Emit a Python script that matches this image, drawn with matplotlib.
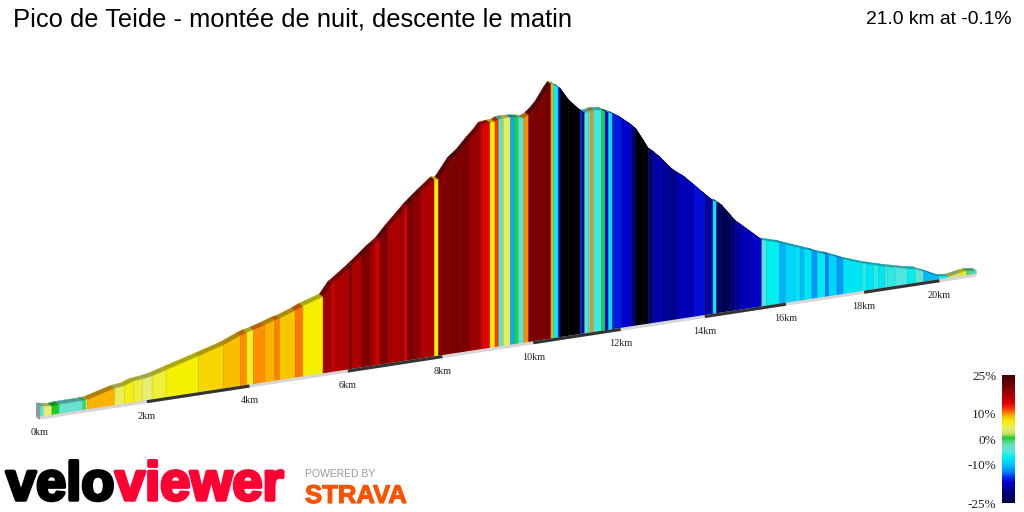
import matplotlib
matplotlib.use("Agg")
import matplotlib.pyplot as plt
import matplotlib.patheffects as pe
import numpy as np
from matplotlib.collections import PolyCollection
from matplotlib.colors import LinearSegmentedColormap, Normalize

title = "Pico de Teide - montée de nuit, descente le matin"
summary = "21.0 km at -0.1%"

# boundaries of the gradient stripes along the ride
km = [0.00, 0.06, 0.22, 0.35, 0.79, 0.85, 0.88, 1.39, 1.57, 1.75, 1.91, 2.10, 2.37, 3.00, 3.49, 3.82,
      3.95, 4.08, 4.31, 4.51, 4.61, 4.92, 5.08, 5.49,
      5.67, 5.73, 6.04, 6.09, 6.29, 6.46, 6.57, 6.67, 6.85, 7.09, 7.18, 7.25, 7.41, 7.55, 7.83, 7.92,
      8.19, 8.38, 8.60, 8.75, 8.86, 9.04, 9.15, 9.23, 9.34, 9.49, 9.58, 9.67, 9.79, 9.90,
      10.01, 10.12, 10.31, 10.40, 10.46, 10.57, 10.61, 10.80, 11.07, 11.11, 11.17, 11.26, 11.31, 11.37,
      11.56, 11.64, 11.72, 11.81, 12.02, 12.25, 12.36, 12.53, 12.65, 12.77, 12.93, 13.17, 13.33, 13.52,
      13.74, 14.00, 14.20, 14.29, 14.41, 14.62, 14.74, 14.90, 15.15, 15.40, 15.52, 15.84, 15.99, 16.23,
      16.36, 16.46, 16.66, 16.80, 17.00, 17.09, 17.30, 17.46, 17.95, 18.07, 18.25, 18.38, 18.56, 18.62,
      18.81, 19.14, 19.36, 19.58, 19.98, 20.24, 20.60, 20.73, 20.95, 21.00]

# elevation above the road line at each boundary (m)
elev = [96, 92, 80, 86, 86, 88, 88, 146, 154, 180, 186, 198, 230, 302, 359, 414,
        432, 442, 470, 497, 504, 547, 575, 624,
        716, 730, 819, 835, 898, 954, 983, 1014, 1092, 1184, 1219, 1247, 1299, 1344, 1427, 1422,
        1560, 1616, 1704, 1757, 1805, 1813, 1815, 1830, 1832, 1829, 1824, 1819, 1808, 1828,
        1862, 1904, 2006, 2048, 2040, 2013, 1999, 1899, 1799, 1784, 1778, 1781, 1786, 1788,
        1778, 1760, 1748, 1733, 1687, 1622, 1584, 1486, 1414, 1381, 1328, 1234, 1185, 1138,
        1066, 980, 916, 902, 870, 782, 730, 685, 614, 543, 529, 499, 479, 449,
        432, 419, 396, 374, 351, 342, 313, 290, 234, 222, 206, 194, 178, 174,
        159, 134, 122, 92, 34, 22, 41, 45, 37, 34]

# gradient of each stripe (%), black ones are steeper than the scale
grade = [-5, 4, 0.5, -3.5, -0.5, 4, 9, 4.5, 6.5, 5.5, 4, 5.5, 7, 8, 8.7,
         10, 6, 10, 9, 10.3, 8.5, 10.5, 7,
         18, 15, 17, 20.5, 17, 20, 18, 15, 20, 17, 18, 15, 20, 19, 17, 7,
         20, 20.5, 20, 18, 18, 14, 7, 12, -2.5, 4.5, -11, 0, -4.5, 10,
         20, 20.5, 20, 21, 9, -7, -17, -30, -30, -15, -22, -5, -2, 10,
         -5.5, 0, -17, -8, -16, -17, -22, -30, -27, -22, -18.5, -19.5, -20.5, -18,
         -18, -16.5, -19.5, -7.5, -23, -24, -22, -19.5, -18, -17.5, -5, -7, -11, -9,
         -8, -10.5, -8, -12, -7.5, -13, -9, -12, -8, -6, -8, -6, -8, -4,
         -6, -5, -7, -4, -10.5, -6, 3, 6.5, -1, -5]

tick_km = [0, 2, 4, 6, 8, 10, 12, 14, 16, 18, 20]
scale_ticks = [25, 10, 0, -10, -25]

grade_stops = [-25, -20, -17, -15, -13, -11, -9, -7, -5, -3, -1, 0.5, 2, 4, 7, 8.5, 10, 12, 14, 17, 20, 25]
stop_colors = ["#000040", "#000090", "#0000d0", "#0030f0", "#0080ff", "#00b0fc", "#00d8f8", "#00f0f0",
               "#50e8e0", "#70e0c8", "#50d890", "#10d020", "#c0e060", "#e8ee70", "#f5f000", "#f8c800",
               "#ff9000", "#ff3000", "#e00000", "#b00000", "#800000", "#400000"]

cmap = LinearSegmentedColormap.from_list(
    "gradient", [((g + 25) / 50, c) for g, c in zip(grade_stops, stop_colors)], N=512)
cmap.set_under("black")
norm = Normalize(-25, 25)


def project(d, e=0):  # perspective view of the road, gives pixel position
    d = np.asarray(d, dtype=float)
    x = 40 + 54.6 * d / (1 + 0.0107 * d)
    y = 418 - 0.1526 * (x - 40) - np.asarray(e, dtype=float) / 8
    return x, y


fig = plt.figure(figsize=(10.24, 5.12), dpi=100)
ax = fig.add_axes([0, 0, 1, 1])
ax.set_xlim(0, 1024)
ax.set_ylim(512, 0)
ax.axis("off")

km = np.array(km)
elev = np.array(elev)
grade = np.array(grade)
x_top, y_top = project(km, elev)
x_bot, y_bot = project(km)
y_bot = y_bot - 1
shift_x = 4 / (1 + 0.0107 * km)
shift_y = 3 / (1 + 0.0107 * km)

faces = []
rims = []
for i in range(len(grade)):
    faces.append([(x_bot[i], y_bot[i]), (x_top[i], y_top[i]), (x_top[i + 1], y_top[i + 1]), (x_bot[i + 1], y_bot[i + 1])])
    rims.append([(x_top[i], y_top[i]), (x_top[i] - shift_x[i], y_top[i] - shift_y[i]),
                 (x_top[i + 1] - shift_x[i + 1], y_top[i + 1] - shift_y[i + 1]), (x_top[i + 1], y_top[i + 1])])

colors = cmap(norm(grade))
rim_colors = colors.copy()
rim_colors[:, :3] = rim_colors[:, :3] * 0.7
edge_colors = colors.copy()
edge_colors[:, :3] = edge_colors[:, :3] * 0.85
ax.add_collection(PolyCollection(rims, facecolors=rim_colors, edgecolors=rim_colors, linewidths=0.3))
ax.add_collection(PolyCollection(faces, array=grade, cmap=cmap, norm=norm, edgecolors=edge_colors, linewidths=0.4))

# end of the ribbon at the start line
ax.fill([x_bot[0], x_top[0], x_top[0] - shift_x[0], x_bot[0] - shift_x[0]],
        [y_bot[0] + 3, y_top[0], y_top[0] - 3, y_bot[0]], color="#8a9a9a", lw=0)

# road strip, every other 2km is black
x_road, y_road = project(np.array([0, 21]))
ax.plot(x_road, y_road, color="#d6d6d6", lw=2.2, solid_capstyle="butt")
for t in tick_km[1:-1:2]:
    x_seg, y_seg = project(np.array([t, t + 2]))
    ax.plot(x_seg, y_seg, color="#333333", lw=2.2, solid_capstyle="butt")

for t in tick_km:
    x_lab, y_lab = project(t)
    ax.text(x_lab, y_lab + 14.5, "%dkm" % t, ha="center", va="center", fontsize=7.3,
            family="Liberation Serif", color="#222222")

ax.text(13, 20, title, fontsize=18.4, family="Liberation Sans", ha="left", va="center", color="black")
ax.text(1012, 19, summary, fontsize=13.85, family="Liberation Sans", ha="right", va="center", color="black")

# logos
fat = [pe.withStroke(linewidth=2.5, foreground="black")]
fat_red = [pe.withStroke(linewidth=2.5, foreground="#ff0033")]
ax.text(6, 500, "velo", fontsize=39, family="Liberation Sans", fontweight="bold", color="black",
        ha="left", va="baseline", path_effects=fat)
ax.text(115, 500, "viewer", fontsize=39, family="Liberation Sans", fontweight="bold", color="#ff0033",
        ha="left", va="baseline", path_effects=fat_red)
ax.text(305, 474, "POWERED BY", fontsize=7.5, family="Liberation Sans", color="#999999", ha="left", va="center")
ax.text(305, 503, "STRAVA", fontsize=18.5, family="Liberation Sans", fontweight="bold", color="#fc5200",
        ha="left", va="baseline", path_effects=[pe.withStroke(linewidth=0.8, foreground="#fc5200")])

# gradient scale
cax = fig.add_axes([1002 / 1024, 1 - 503 / 512, 13 / 1024, 128 / 512])
scale = np.linspace(25, -25, 256).reshape(-1, 1)
cax.imshow(scale, aspect="auto", cmap=cmap, norm=norm, extent=[0, 1, -25, 25])
cax.set_xticks([])
cax.set_yticks(scale_ticks)
cax.set_yticklabels(["%d%%" % t for t in scale_ticks], family="Liberation Serif", fontsize=9.5, color="#222222")
cax.tick_params(axis="y", length=0, pad=4)
for s in cax.spines.values():
    s.set_visible(False)

fig.savefig("out.png", dpi=100)
